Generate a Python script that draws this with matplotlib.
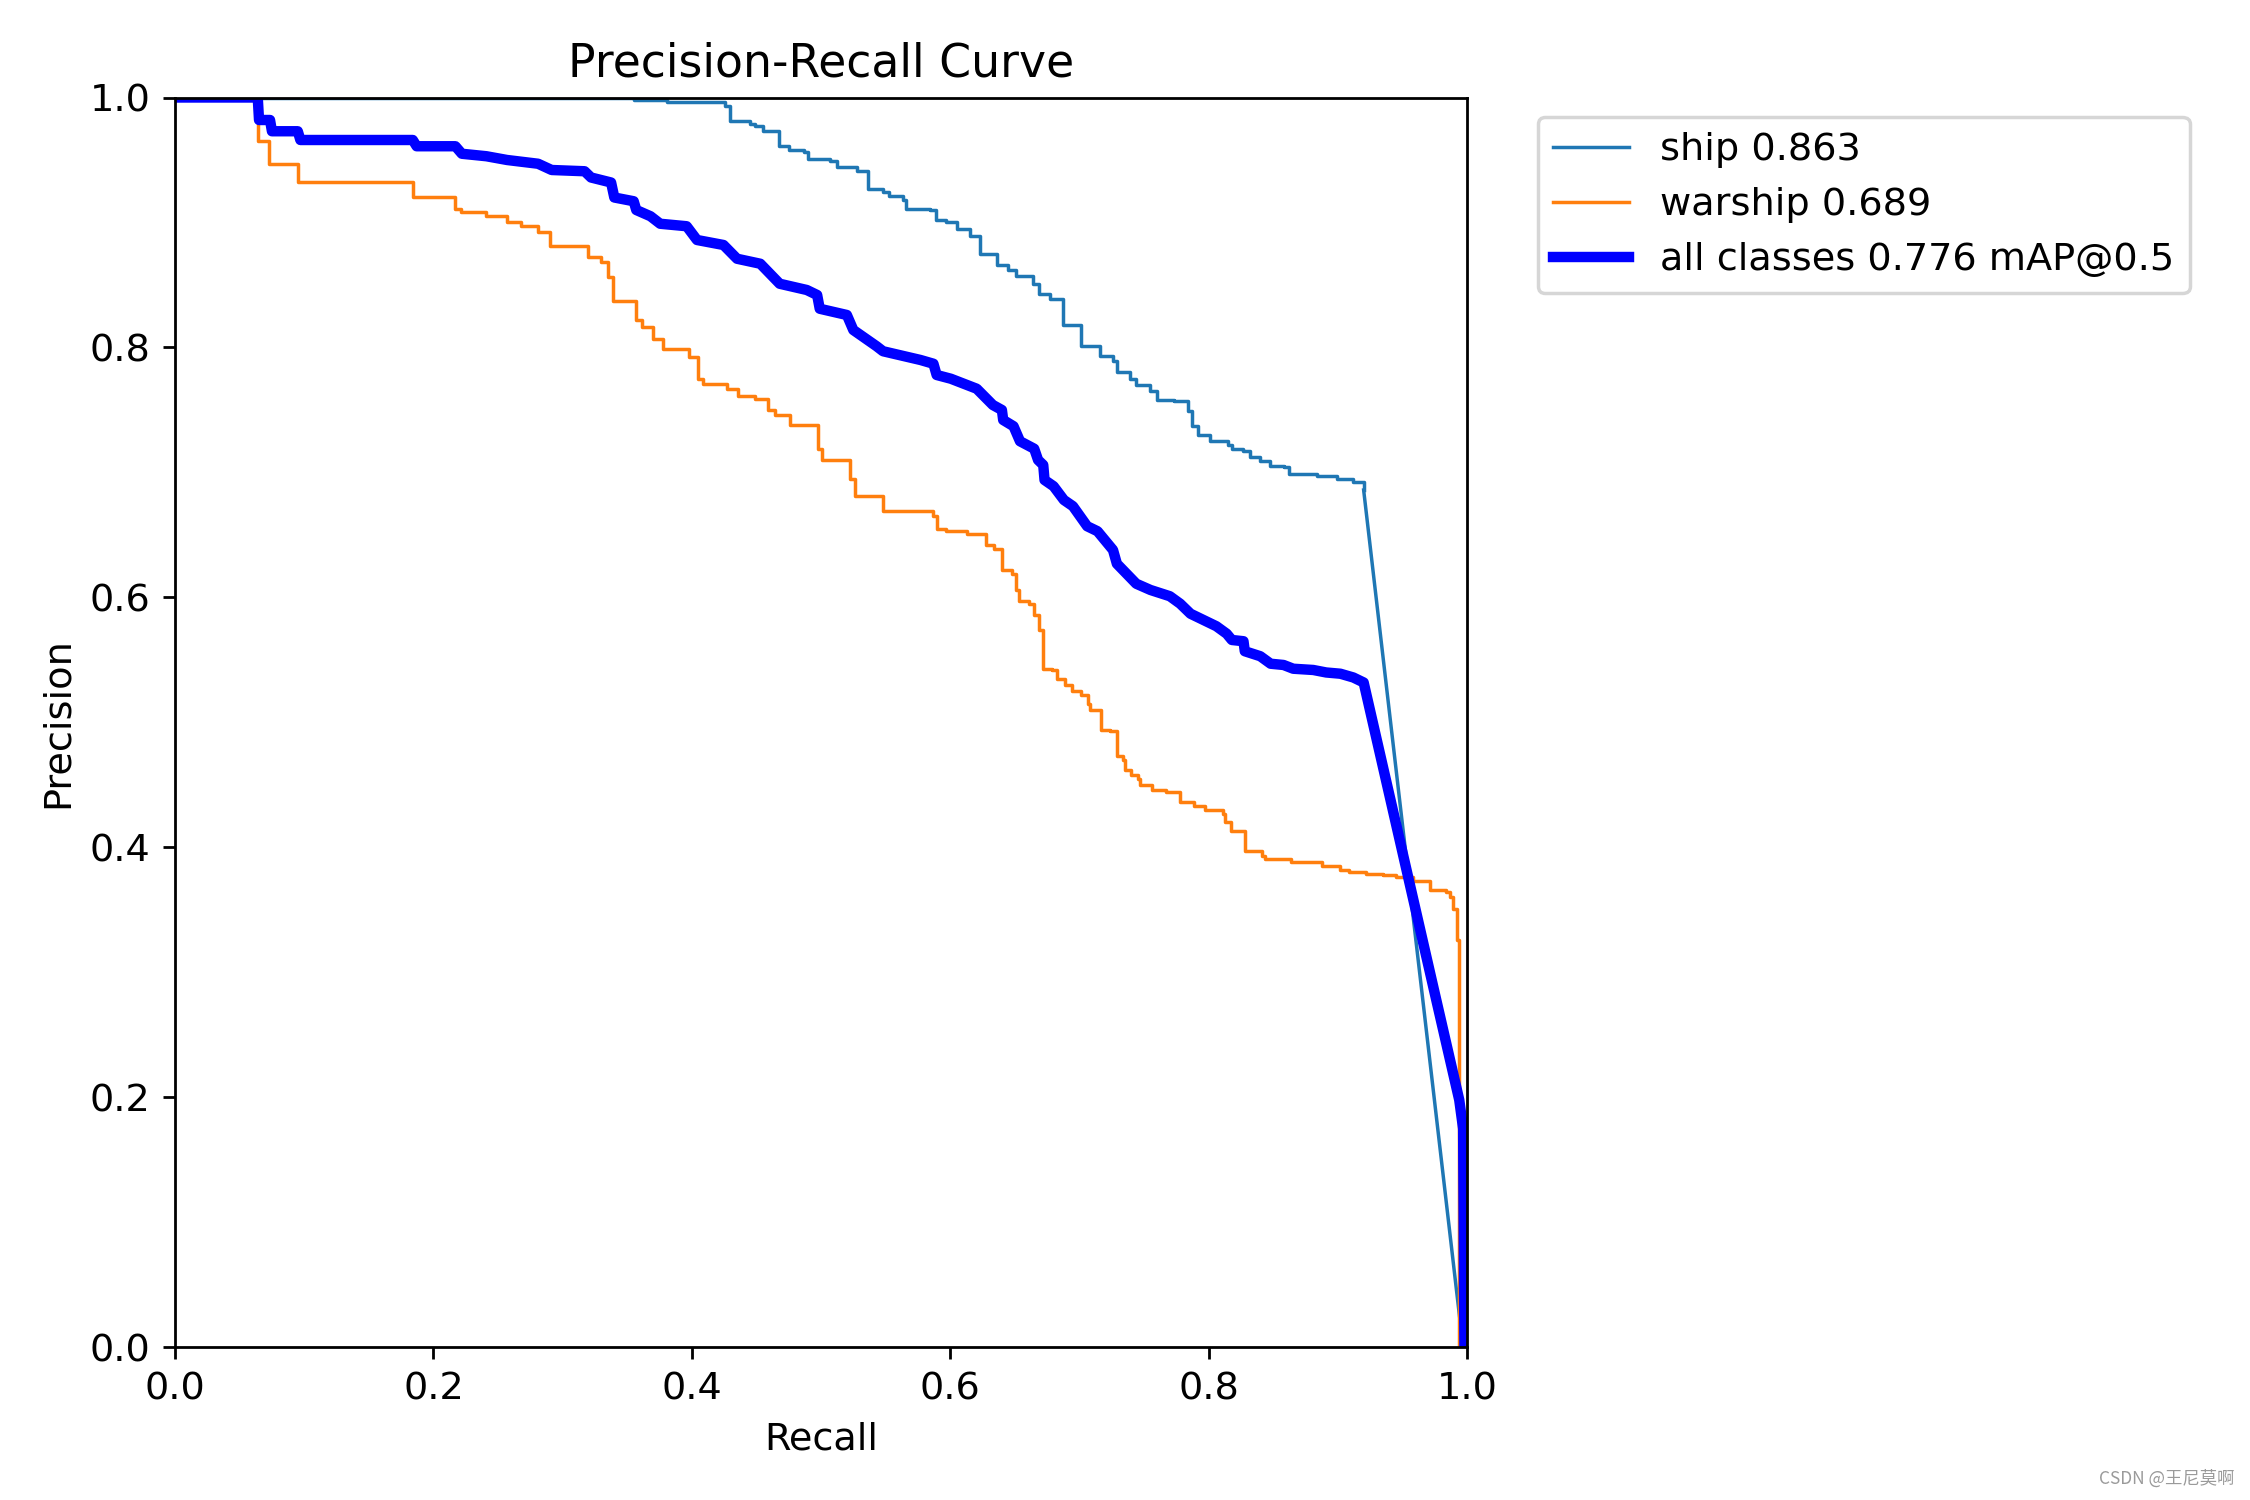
import matplotlib
matplotlib.use('Agg')

import matplotlib.pyplot as plt

plt.rcParams['font.size'] = 11

# ship curve (recall, precision) at each step change
ship_r = [0.0, 0.355, 0.3805, 0.426, 0.4295, 0.445, 0.449, 0.455, 0.4675, 0.475,
          0.487, 0.490, 0.507, 0.512, 0.528, 0.536, 0.548, 0.553, 0.5635, 0.566,
          0.584, 0.589, 0.597, 0.605, 0.615, 0.623, 0.636, 0.645, 0.651, 0.664,
          0.669, 0.677, 0.687, 0.701, 0.716, 0.726, 0.729, 0.739, 0.744, 0.755,
          0.760, 0.773, 0.784, 0.787, 0.792, 0.801, 0.815, 0.818, 0.827, 0.832,
          0.840, 0.8475, 0.858, 0.862, 0.884, 0.899, 0.912, 0.920]
ship_p = [1.0, 0.998, 0.996, 0.993, 0.981, 0.979, 0.977, 0.973, 0.961, 0.958,
          0.956, 0.951, 0.949, 0.944, 0.941, 0.927, 0.924, 0.921, 0.918, 0.911,
          0.910, 0.902, 0.900, 0.895, 0.889, 0.875, 0.866, 0.862, 0.857, 0.851,
          0.843, 0.839, 0.818, 0.801, 0.793, 0.789, 0.780, 0.775, 0.770, 0.765,
          0.758, 0.757, 0.749, 0.737, 0.730, 0.725, 0.722, 0.719, 0.717, 0.712,
          0.709, 0.705, 0.704, 0.699, 0.697, 0.695, 0.692, 0.686]
# last straight drop of the ship curve
ship_tail_r = [0.920, 0.997]
ship_tail_p = [0.686, 0.0]

# warship curve (recall, precision) at each step change
warship_r = [0.0, 0.064, 0.0725, 0.095, 0.184, 0.217, 0.2215, 0.241, 0.257, 0.2675,
             0.281, 0.290, 0.3195, 0.330, 0.3355, 0.339, 0.357, 0.3615, 0.370, 0.3775,
             0.398, 0.405, 0.409, 0.427, 0.436, 0.449, 0.459, 0.4645, 0.476, 0.498,
             0.5005, 0.5225, 0.526, 0.548, 0.587, 0.5895, 0.597, 0.613, 0.628, 0.634,
             0.640, 0.648, 0.651, 0.653, 0.661, 0.665, 0.6685, 0.672, 0.679, 0.6825,
             0.689, 0.694, 0.701, 0.707, 0.708, 0.717, 0.724, 0.729, 0.734, 0.735,
             0.740, 0.745, 0.747, 0.756, 0.767, 0.778, 0.789, 0.797, 0.811, 0.813,
             0.8175, 0.8285, 0.841, 0.844, 0.864, 0.888, 0.902, 0.909, 0.922, 0.935,
             0.945, 0.958, 0.971, 0.984, 0.987, 0.989, 0.9925, 0.994, 1.0]
warship_p = [1.0, 0.965, 0.947, 0.932, 0.920, 0.911, 0.908, 0.905, 0.900, 0.897,
             0.892, 0.881, 0.872, 0.868, 0.856, 0.837, 0.822, 0.816, 0.807, 0.799,
             0.792, 0.775, 0.771, 0.767, 0.761, 0.759, 0.750, 0.746, 0.738, 0.719,
             0.710, 0.695, 0.681, 0.669, 0.665, 0.655, 0.653, 0.651, 0.642, 0.639,
             0.622, 0.619, 0.606, 0.597, 0.595, 0.586, 0.574, 0.543, 0.542, 0.535,
             0.530, 0.525, 0.522, 0.515, 0.510, 0.494, 0.493, 0.473, 0.470, 0.462,
             0.458, 0.455, 0.450, 0.446, 0.444, 0.436, 0.433, 0.430, 0.427, 0.420,
             0.413, 0.397, 0.393, 0.391, 0.388, 0.385, 0.382, 0.380, 0.379, 0.378,
             0.376, 0.373, 0.366, 0.364, 0.360, 0.351, 0.326, 0.0, 0.0]

# mean over classes
all_r = [0.0, 0.064, 0.065, 0.0735, 0.075, 0.095, 0.097, 0.184, 0.187, 0.217,
         0.222, 0.241, 0.257, 0.281, 0.2915, 0.317, 0.322, 0.3375, 0.340, 0.355,
         0.357, 0.368, 0.3755, 0.396, 0.404, 0.4245, 0.435, 0.453, 0.468, 0.489,
         0.497, 0.499, 0.520, 0.525, 0.543, 0.548, 0.577, 0.587, 0.5895, 0.6005,
         0.6205, 0.633, 0.640, 0.641, 0.649, 0.654, 0.665, 0.668, 0.672, 0.673,
         0.680, 0.688, 0.695, 0.706, 0.714, 0.726, 0.729, 0.744, 0.755, 0.770,
         0.778, 0.786, 0.796, 0.806, 0.814, 0.818, 0.827, 0.828, 0.840, 0.848,
         0.858, 0.8655, 0.881, 0.891, 0.902, 0.912, 0.920, 0.974, 0.994, 0.997,
         0.998, 1.0]
all_p = [1.0, 1.0, 0.982, 0.982, 0.973, 0.973, 0.966, 0.966, 0.961, 0.961,
         0.955, 0.953, 0.950, 0.947, 0.942, 0.941, 0.936, 0.932, 0.920, 0.917,
         0.910, 0.905, 0.899, 0.897, 0.886, 0.882, 0.871, 0.867, 0.851, 0.846,
         0.842, 0.831, 0.826, 0.814, 0.801, 0.797, 0.790, 0.787, 0.778, 0.775,
         0.767, 0.754, 0.750, 0.742, 0.737, 0.725, 0.719, 0.710, 0.706, 0.694,
         0.689, 0.678, 0.673, 0.657, 0.653, 0.638, 0.627, 0.611, 0.606, 0.601,
         0.595, 0.587, 0.582, 0.577, 0.571, 0.566, 0.565, 0.557, 0.553, 0.547,
         0.546, 0.543, 0.542, 0.540, 0.539, 0.536, 0.532, 0.288, 0.198, 0.175,
         0.0, 0.0]

names = ['ship 0.863', 'warship 0.689']
all_label = 'all classes 0.776 mAP@0.5'

fig = plt.figure(figsize=(9, 6), dpi=250)
ax = fig.add_axes([0.0778, 0.1017, 0.5742, 0.8333])

ax.plot(ship_r, ship_p, drawstyle='steps-post', linewidth=1, color='#1f77b4', label=names[0])
ax.plot(ship_tail_r, ship_tail_p, linewidth=1, color='#1f77b4')
ax.plot(warship_r, warship_p, drawstyle='steps-post', linewidth=1, color='#ff7f0e', label=names[1])
ax.plot(all_r, all_p, linewidth=3, color='blue', label=all_label)

ax.set_xlabel('Recall')
ax.set_ylabel('Precision')
ax.set_xlim(0, 1)
ax.set_ylim(0, 1)
ax.set_title('Precision-Recall Curve')
ax.legend(bbox_to_anchor=(1.04, 1), loc='upper left')

# watermark
fig.text(0.993, 0.008, 'CSDN @王尼莫啊', ha='right', va='bottom', fontsize=5,
         color='#9a9a9a', family=['Noto Sans CJK SC', 'DejaVu Sans'])

fig.savefig('out.png')
